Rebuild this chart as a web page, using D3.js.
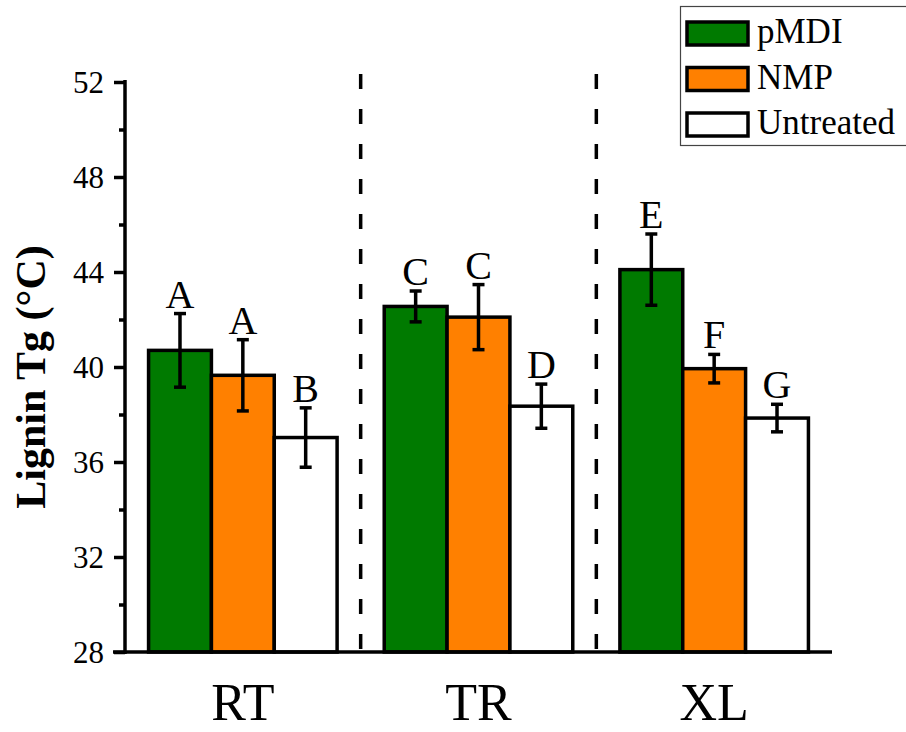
<!DOCTYPE html>
<html>
<head>
<meta charset="utf-8">
<script src="https://cdn.jsdelivr.net/npm/d3@7"></script>
<style>
  html, body { margin: 0; padding: 0; background: #fff; }
  svg { display: block; }
  text { font-family: "Liberation Serif", "Times New Roman", serif; fill: #000; }
</style>
</head>
<body>
<svg id="chart" width="906" height="732"></svg>
<script>
// Lignin glass transition temperature by wood position and treatment
const categories = ["RT", "TR", "XL"];
const series = ["pMDI", "NMP", "Untreated"];
const seriesColors = ["#007a00", "#ff8000", "#ffffff"];

// mean Tg (°C) per category, one array per series
const pMDI      = [40.7, 42.55, 44.1];
const NMP       = [39.65, 42.1, 39.93];
const Untreated = [37.03, 38.35, 37.85];

// standard deviations
const pMDIErr      = [1.55, 0.65, 1.5];
const NMPErr       = [1.5, 1.37, 0.6];
const UntreatedErr = [1.25, 0.93, 0.58];

// significance letters
const pMDILetters      = ["A", "C", "E"];
const NMPLetters       = ["A", "C", "F"];
const UntreatedLetters = ["B", "D", "G"];

const yTicks = [28, 32, 36, 40, 44, 48, 52];
const yMinorTicks = [30, 34, 38, 42, 46, 50];

const values = [pMDI, NMP, Untreated];
const errors = [pMDIErr, NMPErr, UntreatedErr];
const letters = [pMDILetters, NMPLetters, UntreatedLetters];

const svg = d3.select("#chart");
const serif = "'Liberation Serif', 'Times New Roman', serif";

const plotL = 125, plotR = 832, plotT = 82, plotB = 652;

const x = d3.scaleBand().domain(categories).range([plotL, plotR])
  .paddingInner(0.2).paddingOuter(0.1);
const xs = d3.scaleBand().domain(series).range([0, x.bandwidth()]);
const y = d3.scaleLinear().domain([28, 52]).range([plotB, plotT]);

// rows: one per bar
const rows = [];
categories.forEach((c, ci) => {
  series.forEach((s, si) => {
    rows.push({
      cat: c, ser: s, si,
      value: values[si][ci],
      err: errors[si][ci],
      letter: letters[si][ci]
    });
  });
});

// dashed separators between groups
const sepX = categories.slice(1).map(c => x(c) - x.step() * x.paddingInner() / 2);
svg.append("g").selectAll("line").data(sepX).join("line")
  .attr("x1", d => d).attr("x2", d => d)
  .attr("y1", y(52) - 8).attr("y2", plotB)
  .attr("stroke", "#000").attr("stroke-width", 3.5)
  .attr("stroke-dasharray", "15,20");

// bars
svg.append("g").selectAll("rect").data(rows).join("rect")
  .attr("x", d => x(d.cat) + xs(d.ser))
  .attr("y", d => y(d.value))
  .attr("width", xs.bandwidth())
  .attr("height", d => y(28) - y(d.value))
  .attr("fill", d => seriesColors[d.si])
  .attr("stroke", "#000").attr("stroke-width", 3.5);

// error bars
const eb = svg.append("g").attr("stroke", "#000").attr("stroke-width", 3.5);
const cx = d => x(d.cat) + xs(d.ser) + xs.bandwidth() / 2;
eb.selectAll("line.v").data(rows).join("line").attr("class", "v")
  .attr("x1", cx).attr("x2", cx)
  .attr("y1", d => y(d.value + d.err)).attr("y2", d => y(d.value - d.err));
eb.selectAll("line.t").data(rows).join("line").attr("class", "t")
  .attr("x1", d => cx(d) - 6).attr("x2", d => cx(d) + 6)
  .attr("y1", d => y(d.value + d.err)).attr("y2", d => y(d.value + d.err));
eb.selectAll("line.b").data(rows).join("line").attr("class", "b")
  .attr("x1", d => cx(d) - 6).attr("x2", d => cx(d) + 6)
  .attr("y1", d => y(d.value - d.err)).attr("y2", d => y(d.value - d.err));

// significance letters
svg.append("g").selectAll("text").data(rows).join("text")
  .attr("x", cx)
  .attr("y", d => y(d.value + d.err) - 6)
  .attr("text-anchor", "middle")
  .style("font-size", "40px")
  .text(d => d.letter);

// y axis
const yAxis = svg.append("g").attr("transform", `translate(${plotL},0)`)
  .call(d3.axisLeft(y).tickValues(yTicks).tickSize(11).tickPadding(10).tickFormat(d3.format("d")));
yAxis.select(".domain").remove();
yAxis.selectAll(".tick line").attr("stroke", "#000").attr("stroke-width", 3.5);
yAxis.selectAll(".tick text")
  .style("font-size", "31px")
  .style("font-family", serif)
  .attr("dy", "0.34em");
svg.append("g").attr("transform", `translate(${plotL},0)`)
  .call(d3.axisLeft(y).tickValues(yMinorTicks).tickSize(6).tickFormat(""))
  .call(g => g.select(".domain").remove())
  .selectAll(".tick line").attr("stroke", "#000").attr("stroke-width", 3.5);
svg.append("line")
  .attr("x1", plotL).attr("x2", plotL).attr("y1", plotT - 2).attr("y2", plotB + 2)
  .attr("stroke", "#000").attr("stroke-width", 3.5);

// x axis
svg.append("line")
  .attr("x1", plotL - 12).attr("x2", plotR).attr("y1", plotB).attr("y2", plotB)
  .attr("stroke", "#000").attr("stroke-width", 3.5);
svg.append("g").selectAll("text").data(categories).join("text")
  .attr("x", d => x(d) + x.bandwidth() / 2)
  .attr("y", 720)
  .attr("text-anchor", "middle")
  .style("font-size", "52px")
  .text(d => d);

// y axis title
svg.append("text")
  .attr("transform", `translate(45,${(plotT + plotB) / 2 + 10}) rotate(-90)`)
  .attr("text-anchor", "middle")
  .style("font-size", "42px")
  .attr("font-weight", "bold")
  .text("Lignin Tg (°C)");

// legend
const legend = svg.append("g");
legend.append("rect")
  .attr("x", 680.5).attr("y", 6.5).attr("width", 240).attr("height", 139)
  .attr("fill", "#fff").attr("stroke", "#444").attr("stroke-width", 1.2);
const li = legend.selectAll("g.item").data(series).join("g").attr("class", "item")
  .attr("transform", (d, i) => `translate(0,${22 + i * 45.5})`);
li.append("rect")
  .attr("x", 687).attr("y", 0).attr("width", 61).attr("height", 23)
  .attr("fill", (d, i) => seriesColors[i])
  .attr("stroke", "#000").attr("stroke-width", 3.5);
li.append("text")
  .attr("x", 757).attr("y", 21)
  .style("font-size", "35px")
  .text(d => d);
</script>
</body>
</html>
